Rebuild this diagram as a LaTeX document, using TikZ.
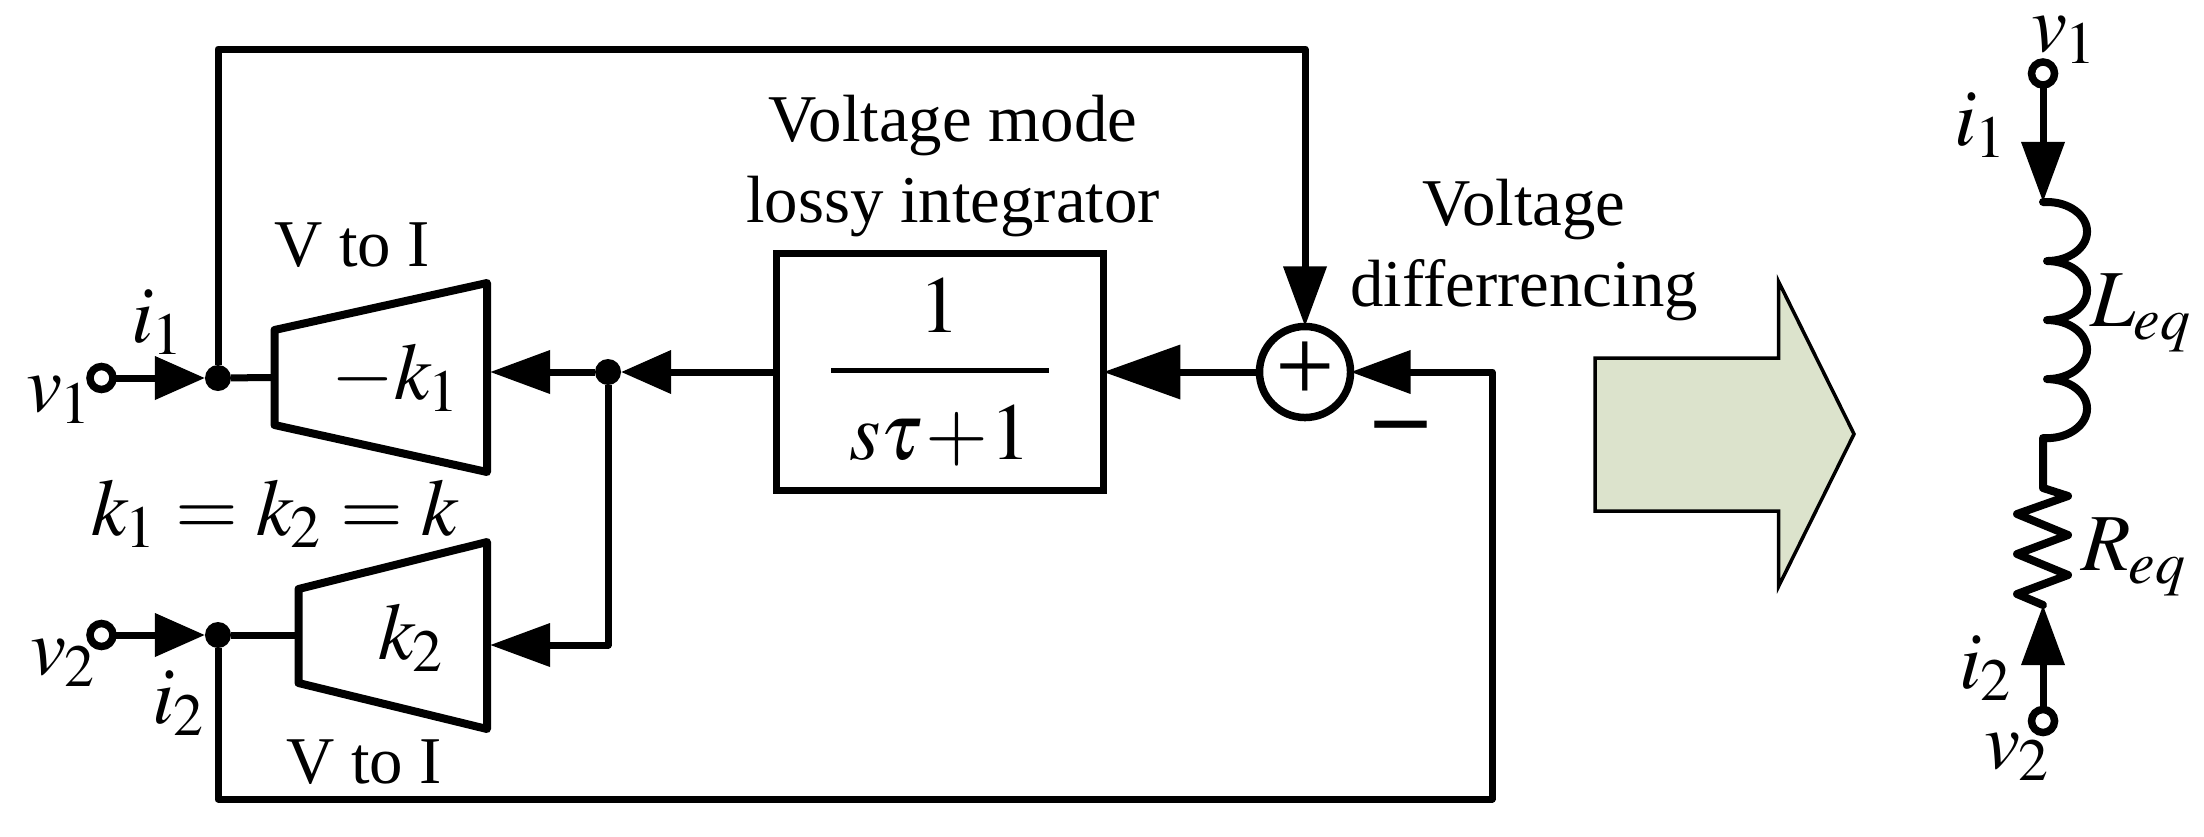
\documentclass[tikz,border=0pt]{standalone}
\usepackage{amsmath}
\usepackage{mathptmx}
\usepackage[no-math]{fontspec}
\setmainfont{Liberation Serif}
\usepackage{tikz}
\usetikzlibrary{arrows.meta, calc}
\definecolor{sage}{RGB}{220,227,204}
\newcommand{\tuck}{\mkern-0.5mu}
\tikzstyle{line} = [-, line width=0.07cm, line join=round]
\tikzstyle{arrow} = [line, -{Triangle[length=0.6cm, width=0.42cm]}]
\tikzstyle{jarrow} = [line, -{Triangle[length=0.5cm, width=0.42cm]}]
\tikzstyle{bigarrow} = [line, -{Triangle[length=0.77cm, width=0.53cm]}]
\tikzstyle{terminal} = [circle, draw, fill=white, line width=0.075cm, minimum size=0.23cm, inner sep=0pt, outer sep=0pt]
\tikzstyle{junction} = [circle, fill=black, minimum size=0.26cm, inner sep=0pt, outer sep=0pt]
\tikzstyle{inout} = [inner sep=0pt, font=\fontsize{23}{28}\selectfont]
\tikzstyle{caption} = [inner sep=0pt, align=center, font=\fontsize{19}{22.8}\selectfont]
\tikzstyle{amp} = [line width=0.08cm, line join=round]
\begin{document}
\begin{tikzpicture}[x=0.01cm, y=-0.01cm]
        \useasboundingbox (0,0) rectangle (2204,836);

        % Input terminals and junctions
        \node[terminal] (term1) at (101.5,378) {};
        \node[terminal] (term2) at (101.5,635) {};
        \node[junction] (junc1) at (218,378) {};
        \node[junction] (junc3) at (218,635) {};
        \node[junction] (junc2) at (608,372) {};

        % V to I amplifier 1
        \coordinate (a1) at (274.5,330);
        \coordinate (b1) at (487,283);
        \coordinate (c1) at (487,472);
        \coordinate (d1) at (274.5,425);
        \draw[amp] (a1) -- (b1) -- (c1) -- (d1) -- cycle;
        \coordinate (in1) at ($(a1)!0.5!(d1)$);
        \coordinate (out1) at (490,372);
        \node[inout] (gain1) at (396,378) {$-k_{\tuck 1}$};
        \node[caption] (vtoi1) at (352,245) {V to I};

        % V to I amplifier 2
        \coordinate (a2) at (298.5,589);
        \coordinate (b2) at (487,542);
        \coordinate (c2) at (487,729);
        \coordinate (d2) at (298.5,683);
        \draw[amp] (a2) -- (b2) -- (c2) -- (d2) -- cycle;
        \coordinate (in2) at (298.5,635);
        \coordinate (out2) at (490,645);
        \node[inout] (gain2) at (411,638) {$k_{\tuck 2}$};
        \node[caption] (vtoi2) at (364,762) {V to I};

        % Integrator block and voltage difference
        \node[rectangle, draw, line width=0.075cm, minimum width=3.265cm, minimum height=2.37cm, outer sep=0pt, inner sep=0pt, font=\fontsize{23}{28}\selectfont] (block) at (940,372)
            {$\genfrac{}{}{1.4pt}{0}{1\rule[-0.26em]{0pt}{0pt}}{\rule{0pt}{0.88em}\;s\tau\!+\!1\;}$};
        \node[caption] (blocktext) at (953,166) {Voltage mode\\lossy integrator};
        \node[circle, draw, line width=0.075cm, minimum size=0.91cm, inner sep=0pt, outer sep=0pt, font=\fontsize{30}{30}\selectfont] (sum) at (1305,372) {+};
        \node[caption] (difftext) at (1524,250) {Voltage\\differrencing};
        \node[inner sep=0pt, font=\fontsize{29}{30}\bfseries] (minus) at (1401,435) {--};
        \coordinate (top) at (1305,49);
        \coordinate (corner) at (1492,799);

        % Labels on the left
        \node[inout] (v1) at (59,400) {$v_{\tuck 1}$};
        \node[inout] (i1) at (158,322) {$i_{\tuck 1}$};
        \node[inout] (v2) at (63,663) {$v_{\tuck 2}$};
        \node[inout] (i2) at (179,703) {$i_{\tuck 2}$};
        \node[inout] (keq) at (275,514) {$k_{\tuck 1} = k_{\tuck 2} = k$};

        % Connections
        \draw[jarrow] (term1) -- (junc1);
        \draw[jarrow] (term2) -- (junc3);
        \draw[line] (junc1) -- (in1);
        \draw[line] (junc3) -- (in2);
        \draw[arrow] (junc1) |- (top) -- (sum);
        \draw[arrow] (junc3) |- (corner) |- (sum);
        \draw[bigarrow] (sum) -- (block);
        \draw[jarrow] (block) -- (junc2);
        \draw[arrow] (junc2) -- (out1);
        \draw[arrow] (junc2) |- (out2);

        % Big arrow
        \draw[fill=sage, line width=0.035cm] (1595,358) -- (1778.5,358) -- (1778.5,281.5) -- (1854,434) -- (1778.5,586.5) -- (1778.5,511) -- (1595,511) -- cycle;

        % Equivalent circuit
        \node[terminal] (term3) at (2043,73.5) {};
        \node[terminal] (term4) at (2043,721) {};
        \coordinate (coil1) at (2043,202);
        \coordinate (res1) at (2043,605);
        \draw[arrow] (term3) -- (coil1);
        \draw[arrow] (term4) -- (res1);
        \draw[line, line cap=round, line width=0.08cm] (coil1) -- ++(4,0)
            arc[start angle=90, end angle=-90, x radius=0.4cm, y radius=0.295cm]
            arc[start angle=90, end angle=-90, x radius=0.4cm, y radius=0.295cm]
            arc[start angle=90, end angle=-90, x radius=0.4cm, y radius=0.295cm]
            arc[start angle=90, end angle=-90, x radius=0.4cm, y radius=0.295cm]
            -- (2043,438) -- (2043,488) -- (2068,496) -- (2017,514) -- (2068,535) -- (2017,554) -- (2068,575) -- (2017,594) -- (res1);
        \node[inout] (v1r) at (2064,40) {$v_{\tuck 1}$};
        \node[inout] (i1r) at (1981,125) {$i_{\tuck 1}$};
        \node[inout] (leq) at (2141,313) {$L_{\tuck eq}$};
        \node[inout] (req) at (2134,557) {$R_{\tuck eq}$};
        \node[inout] (i2r) at (1986,668) {$i_{\tuck 2}$};
        \node[inout] (v2r) at (2017,757) {$v_{\tuck 2}$};
    \end{tikzpicture}
\end{document}
